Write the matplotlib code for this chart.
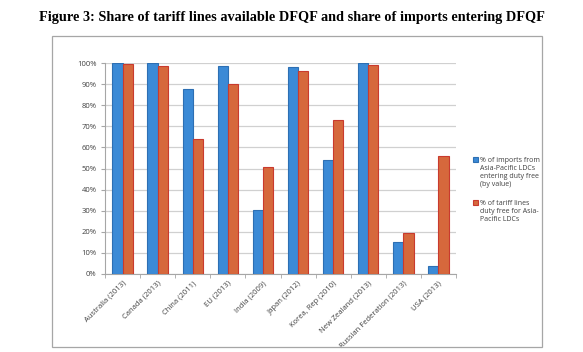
import matplotlib.pyplot as plt
import numpy as np
from matplotlib.patches import Rectangle
from matplotlib.ticker import PercentFormatter

countries = ["Australia (2013)", "Canada (2013)", "China (2011)", "EU (2013)",
             "India (2009)", "Japan (2012)", "Korea, Rep (2010)",
             "New Zealand (2013)", "Russian Federation (2013)", "USA (2013)"]
imports_share = [100, 100, 87.5, 98.5, 30.4, 98.2, 54, 100, 15, 4]
tariff_share = [99.4, 98.4, 64, 90.2, 50.9, 96.2, 73, 99, 19.4, 56]

label_imports = "% of imports from\nAsia-Pacific LDCs\nentering duty free\n(by value)"
label_tariff = "% of tariff lines\nduty free for Asia-\nPacific LDCs"

W, H = 583, 352
fig = plt.figure(figsize=(W / 100, H / 100), dpi=100)

fig.text(0.5, 1 - 18 / H,
         "Figure 3: Share of tariff lines available DFQF and share of imports entering DFQF",
         ha="center", va="center", family="Liberation Serif", weight="bold", fontsize=10.3)

# outer chart frame
fig.patches.append(Rectangle((52 / W, 1 - 347 / H), 490 / W, 311 / H,
                             transform=fig.transFigure, fill=False,
                             edgecolor="#a6a6a6", linewidth=0.9))

ax = fig.add_axes([105 / W, 1 - 274 / H, 351 / W, 211 / H])

x = np.arange(len(countries))
bw = 0.29
ax.bar(x - bw / 2, imports_share, bw, color="#3b8ad6", edgecolor="#2d6fb3",
       linewidth=0.8, label=label_imports, zorder=3)
ax.bar(x + bw / 2, tariff_share, bw, color="#d6683c", edgecolor="#c93a2e",
       linewidth=0.8, label=label_tariff, zorder=3)

ax.set_xlim(-0.5, len(countries) - 0.5)
ax.set_ylim(0, 100)
ax.set_yticks(np.arange(0, 101, 10))
ax.yaxis.set_major_formatter(PercentFormatter(decimals=0))
ax.grid(axis="y", color="#d0d0d0", linewidth=0.9, zorder=0)

ax.set_xticks(x)
ax.set_xticklabels(countries, rotation=45, ha="right", rotation_mode="anchor")
ax.set_xticks(np.arange(-0.5, len(countries), 1), minor=True)
ax.tick_params(axis="x", which="major", length=0, pad=4)
ax.tick_params(axis="x", which="minor", length=3, color="#a6a6a6")
ax.tick_params(axis="y", length=3, color="#a6a6a6", pad=3)
ax.tick_params(labelsize=5.5, labelcolor="#404040")
for lab in ax.get_xticklabels() + ax.get_yticklabels():
    lab.set_family("Open Sans")

for side in ["top", "right"]:
    ax.spines[side].set_visible(False)
for side in ["left", "bottom"]:
    ax.spines[side].set_color("#a6a6a6")
    ax.spines[side].set_linewidth(0.8)

leg = ax.legend(loc="upper left", bbox_to_anchor=(467 / W, 1 - 151 / H),
                bbox_transform=fig.transFigure, frameon=False,
                prop={"family": "Open Sans", "size": 5.0},
                handlelength=0.7, handleheight=0.7, handletextpad=0.3,
                labelspacing=1.7, labelcolor="#404040")
# put the colour square next to the first line of each label
for col in leg._legend_handle_box.get_children():
    for item in col.get_children():
        item.align = "top"

fig.savefig("out.png", dpi=100)
